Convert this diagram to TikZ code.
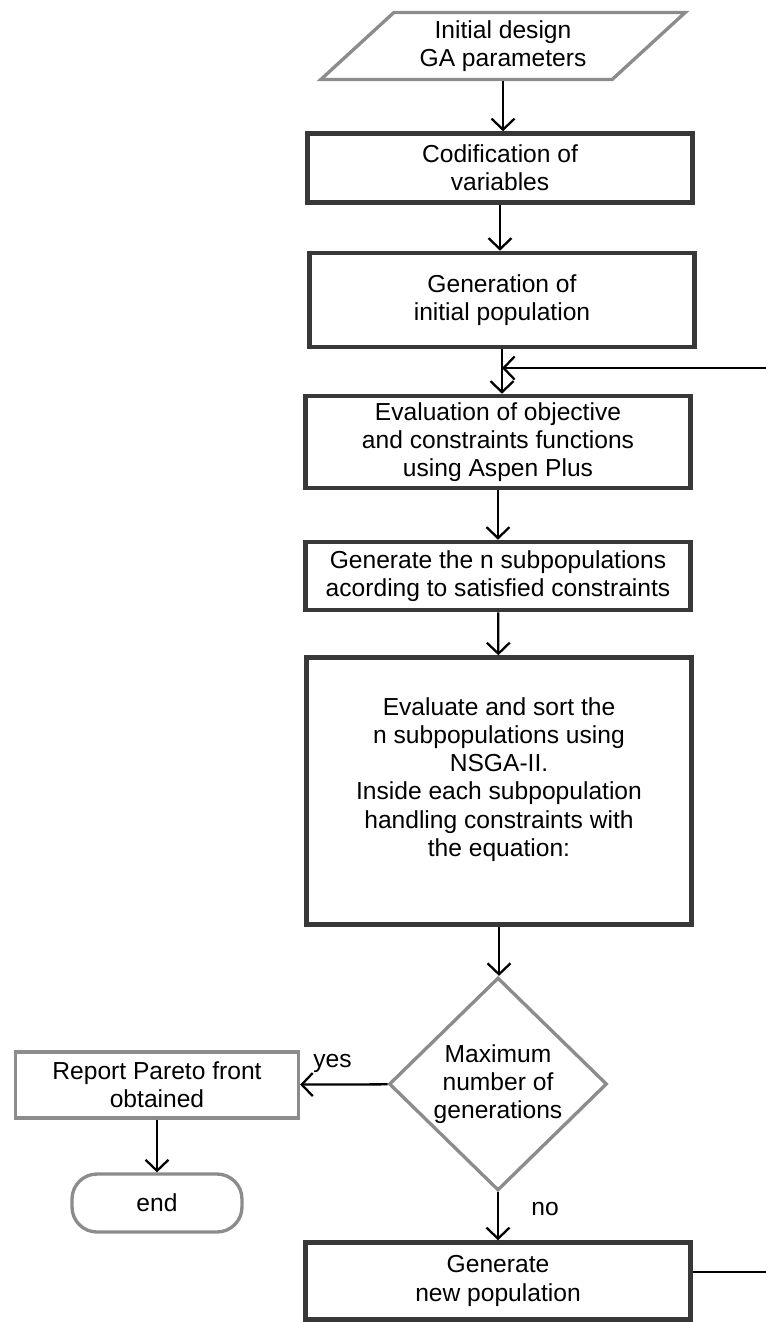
\documentclass[tikz,border=0pt]{standalone}
\usepackage{fontspec}
\setmainfont{Liberation Sans}
\usetikzlibrary{arrows.meta,positioning,shapes.geometric}

\begin{document}
\begin{tikzpicture}[
    x=0.02cm, y=-0.02cm,
    box/.style={draw=black!78, line width=2.6pt, fill=white, align=center, inner sep=2pt,
      font=\fontsize{14}{16}\selectfont, minimum width=7.7cm},
    gbox/.style={box, draw=black!45, line width=1.9pt},
    arr/.style={-{Straight Barb[length=2.2mm, width=4.6mm]}, line width=1.3pt},
    lbl/.style={font=\fontsize{14}{16}\selectfont}
  ]
    \useasboundingbox (0,0) rectangle (765,1322);

    \node[gbox, trapezium, trapezium left angle=42.5, trapezium right angle=137.5,
      minimum width=7.3cm, minimum height=1.34cm, inner sep=0pt] (init) at (503,46)
      {Initial design\\GA parameters};
    \node[box, minimum height=1.38cm] (codif) at (500,168) {Codification of\\variables};
    \node[box, minimum height=1.88cm] (genpop) at (502,300) {Generation of\\initial population};
    \node[box, minimum height=1.84cm] (evalobj) at (498,442)
      {Evaluation of objective\\and constraints functions\\using Aspen  Plus};
    \node[box, minimum height=1.36cm] (subpop) at (498,576)
      {Generate the n subpopulations\\acording to satisfied constraints};
    \node[box, minimum height=5.34cm] (nsga) at (499,791)
      {Evaluate and sort the\\n subpopulations using\\NSGA-II.\\Inside each subpopulation\\handling constraints with\\the equation:\\[0pt]\mbox{}};
    \node[gbox, diamond, minimum width=4.36cm, minimum height=4.26cm, inner sep=0pt] (maxgen) at (498,1084)
      {Maximum\\number of\\generations};
    \node[gbox, minimum width=5.66cm, minimum height=1.32cm] (report) at (157,1085)
      {Report Pareto front\\obtained};
    \node[gbox, rounded corners=0.5cm, minimum width=3.4cm, minimum height=1.16cm] (endnode) at (157,1203) {end};
    \node[box, minimum height=1.54cm] (newpop) at (498,1281) {Generate\\new population};

    \coordinate (fbin) at (502,368);
    \coordinate (fbout) at (820,1272);

    \draw[arr] (init.south) -- (init.south |- codif.north);
    \draw[arr] (codif.south) -- (codif.south |- genpop.north);
    \draw[arr] (genpop.south) -- (genpop.south |- evalobj.north);
    \draw[arr] (evalobj) -- (subpop);
    \draw[arr] (subpop) -- (nsga);
    \draw[arr] (nsga.south) -- (nsga.south |- maxgen.north);
    \draw[arr] (maxgen) -- node[lbl, above=3pt, pos=0.63] {yes} (report);
    \draw[arr] (report) -- (endnode);
    \draw[arr] (maxgen) -- node[lbl, right, xshift=15pt, pos=0.35] {no} (newpop);
    \draw[arr] (newpop.east |- fbout) -- (fbout) -- (fbout |- fbin) -- (fbin);
\end{tikzpicture}
\end{document}
